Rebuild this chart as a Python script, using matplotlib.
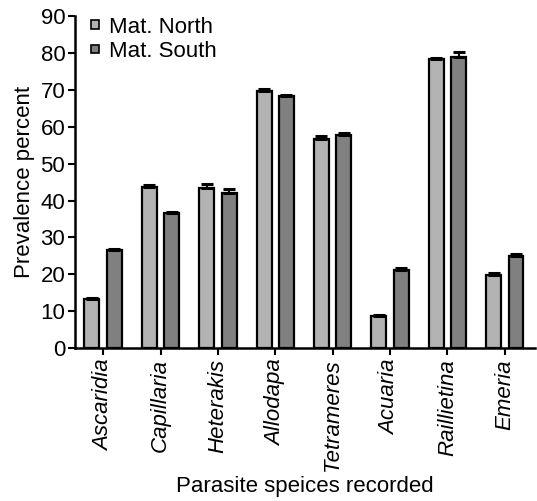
import matplotlib
matplotlib.use('Agg')
import matplotlib.pyplot as plt
import numpy as np

plt.rcParams['font.family'] = ['Liberation Sans', 'DejaVu Sans']

species = ['Ascaridia', 'Capillaria', 'Heterakis', 'Allodapa',
           'Tetrameres', 'Acuaria', 'Raillietina', 'Emeria']
north = [13.3, 43.8, 43.5, 69.8, 56.8, 8.6, 78.3, 19.9]
south = [26.5, 36.5, 42.0, 68.2, 57.8, 21.2, 79.0, 25.1]
north_err = [0.3, 0.4, 0.9, 0.4, 0.8, 0.5, 0.4, 0.4]
south_err = [0.4, 0.4, 1.2, 0.4, 0.5, 0.4, 1.2, 0.4]

fig = plt.figure(figsize=(5.37, 5.01), dpi=100)
ax = fig.add_axes([0.1397, 0.305, 0.857, 0.663])

x = np.arange(len(species))
w = 0.26
err_kw = dict(ecolor='black', elinewidth=1.5, capsize=4, capthick=2.2)
ax.bar(x - 0.195, north, w, yerr=[[0] * len(x), north_err], color='#b3b3b3',
       edgecolor='black', linewidth=1.6, label='Mat. North', error_kw=err_kw)
ax.bar(x + 0.195, south, w, yerr=[[0] * len(x), south_err], color='#808080',
       edgecolor='black', linewidth=1.6, label='Mat. South', error_kw=err_kw)

ax.set_xlim(-0.49, 7.53)
ax.set_ylim(0, 90)
ax.set_yticks(range(0, 91, 10))
ax.set_xticks(x)
ax.set_xticklabels(species, rotation=90, style='italic', fontsize=16)
ax.tick_params(axis='y', labelsize=16, width=1.5, length=5, pad=2)
ax.tick_params(axis='x', width=1.5, length=5, pad=3)
for s in ['top', 'right']:
    ax.spines[s].set_visible(False)
for s in ['left', 'bottom']:
    ax.spines[s].set_linewidth(1.8)

ax.set_ylabel('Prevalence percent', fontsize=16, labelpad=4)
ax.set_xlabel('Parasite speices recorded', fontsize=16, labelpad=4)

leg = ax.legend(loc='upper left', bbox_to_anchor=(0.0, 1.045), frameon=False,
                fontsize=16, handlelength=0.37, handleheight=0.2,
                handletextpad=0.45, labelspacing=0.15, borderpad=0.2)
for h in leg.legend_handles:
    h.set_linewidth(1.2)

fig.savefig('out.png', dpi=100)
